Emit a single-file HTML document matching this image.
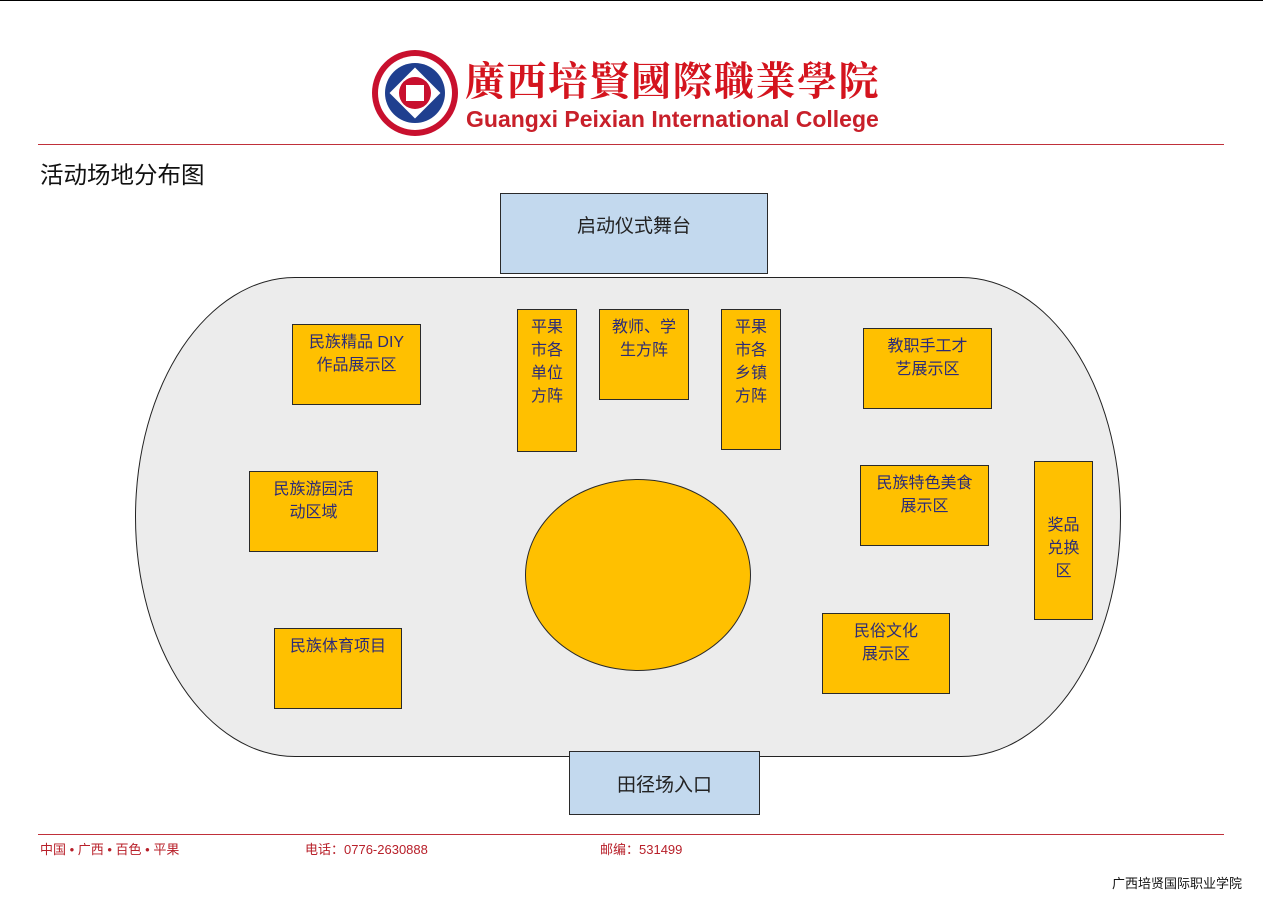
<!DOCTYPE html>
<html><head><meta charset="utf-8"><style>
body{margin:0;width:1263px;height:899px;background:#fff;position:relative;overflow:hidden;font-family:"Liberation Sans","Noto Sans CJK SC",sans-serif;}
.a{position:absolute;box-sizing:border-box;}
.b{background:#FFC000;border:1.5px solid #2a2a2a;color:#2b2b78;font-size:16px;line-height:23px;text-align:center;padding-top:6px;}
.blue{background:#C3D9EE;border:1.5px solid #2a2a2a;color:#222;font-size:19px;text-align:center;}
</style></head><body>
<div class="a" style="left:0;top:0;width:1263px;height:1px;background:#000"></div>
<svg class="a" style="left:370px;top:48px" width="90" height="90" viewBox="0 0 90 90">
<circle cx="45" cy="45" r="43" fill="#c8102e"/><circle cx="45" cy="45" r="37" fill="#fff"/><circle cx="45" cy="45" r="30" fill="#1f3f8f"/>
<rect x="27" y="27" width="36" height="36" transform="rotate(45 45 45)" fill="#fff"/><circle cx="45" cy="45" r="16" fill="#c8102e"/><rect x="36" y="37" width="18" height="16" fill="#fff"/></svg>
<div class="a" style="left:465px;top:55px;font-family:'Noto Serif CJK SC',serif;font-size:40px;font-weight:bold;color:#d4141e;letter-spacing:1.5px;line-height:48px;white-space:nowrap">廣西培賢國際職業學院</div>
<div class="a" style="left:466px;top:104px;font-size:23px;font-weight:bold;color:#c8202a;line-height:30px;white-space:nowrap">Guangxi Peixian International College</div>
<div class="a" style="left:38px;top:144px;width:1186px;height:1px;background:#c0303a"></div>
<div class="a" style="left:40px;top:156px;font-size:23.5px;color:#111">活动场地分布图</div>
<div class="a" style="left:135px;top:277px;width:986px;height:480px;background:#ececec;border:1.5px solid #222;border-radius:160px/240px"></div>
<div class="a blue" style="left:500px;top:193px;width:268px;height:81px;padding-top:17px">启动仪式舞台</div>
<div class="a blue" style="left:569px;top:751px;width:191px;height:64px;padding-top:18px">田径场入口</div>
<div class="a b" style="left:292px;top:324px;width:129px;height:81px">民族精品 DIY<br>作品展示区</div>
<div class="a b" style="left:517px;top:309px;width:60px;height:143px">平果<br>市各<br>单位<br>方阵</div>
<div class="a b" style="left:599px;top:309px;width:90px;height:91px">教师、学<br>生方阵</div>
<div class="a b" style="left:721px;top:309px;width:60px;height:141px">平果<br>市各<br>乡镇<br>方阵</div>
<div class="a b" style="left:863px;top:328px;width:129px;height:81px">教职手工才<br>艺展示区</div>
<div class="a b" style="left:249px;top:471px;width:129px;height:81px">民族游园活<br>动区域</div>
<div class="a b" style="left:860px;top:465px;width:129px;height:81px">民族特色美食<br>展示区</div>
<div class="a b" style="left:1034px;top:461px;width:59px;height:159px;padding-top:52px">奖品<br>兑换<br>区</div>
<div class="a" style="left:525px;top:479px;width:226px;height:192px;border-radius:50%;background:#FFC000;border:1.5px solid #2a2a2a"></div>
<div class="a b" style="left:274px;top:628px;width:128px;height:81px">民族体育项目</div>
<div class="a b" style="left:822px;top:613px;width:128px;height:81px">民俗文化<br>展示区</div>
<div class="a" style="left:38px;top:834px;width:1186px;height:1px;background:#c0303a"></div>
<div class="a" style="left:40px;top:839px;font-size:13px;color:#b8202a">中国 • 广西 • 百色 • 平果</div>
<div class="a" style="left:305px;top:839px;font-size:13px;color:#b8202a">电话：0776-2630888</div>
<div class="a" style="left:600px;top:839px;font-size:13px;color:#b8202a">邮编：531499</div>
<div class="a" style="left:1112px;top:873px;font-size:13px;color:#111">广西培贤国际职业学院</div>
</body></html>
